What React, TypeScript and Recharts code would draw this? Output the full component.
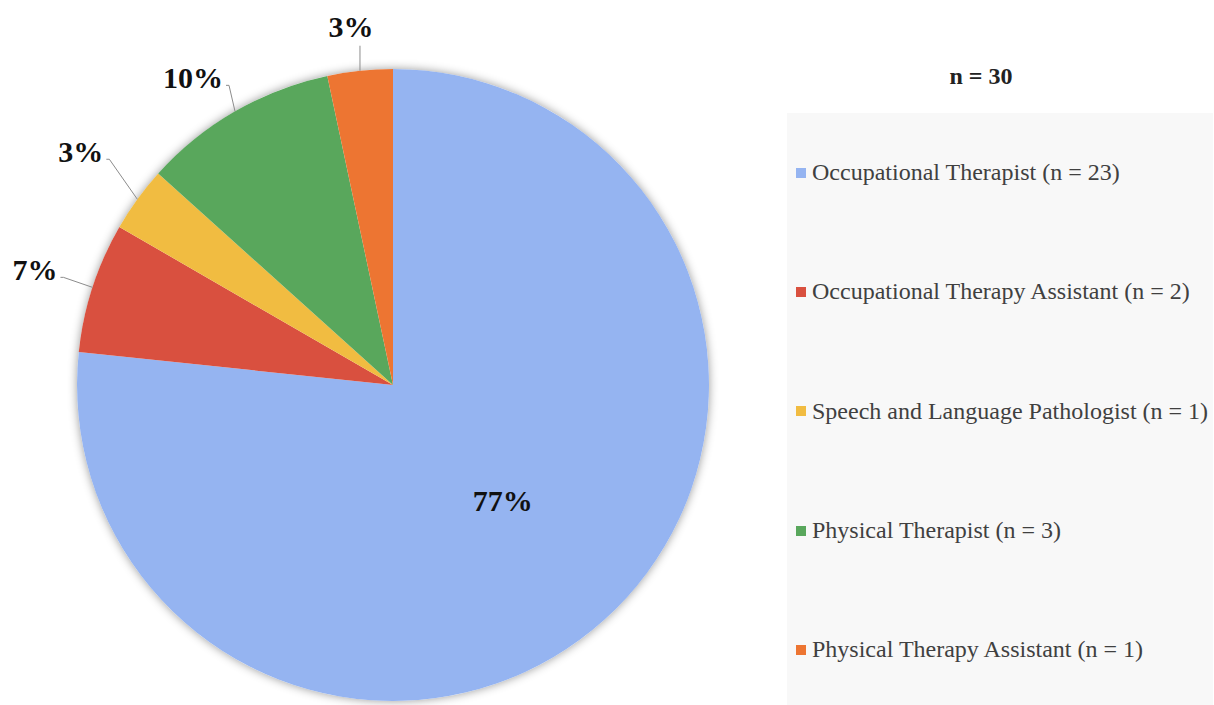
import { PieChart, Pie, Cell, Legend } from "recharts"

const roles = [
  "Occupational Therapist",
  "Occupational Therapy Assistant",
  "Speech and Language Pathologist",
  "Physical Therapist",
  "Physical Therapy Assistant",
]
const counts = [23, 2, 1, 3, 1]
const colors = ["#95b4f1", "#d9503f", "#f1bc41", "#59a75c", "#ed7532"]

const total = counts.reduce((a, b) => a + b, 0)
const data = roles.map((name, i) => ({ name, value: counts[i] }))

// leader line bend, measured from the point where the slice meets the rim
const leaderBend = [
  [0, 0],
  [-29, -10],
  [-28, -40],
  [-6, -26],
  [0, -25],
]
const RAD = Math.PI / 180
const serif = "'Liberation Serif', 'Times New Roman', serif"

function renderLabel(props: any) {
  const { cx, cy, midAngle, outerRadius, percent, index } = props
  const text = `${Math.round(percent * 100)}%`
  const cos = Math.cos(-midAngle * RAD)
  const sin = Math.sin(-midAngle * RAD)
  if (index === 0) {
    const r = outerRadius * 0.5
    return (
      <text x={cx + r * cos + 4} y={cy + r * sin - 2} textAnchor="middle" dominantBaseline="central"
        fontFamily={serif} fontWeight="bold" fontSize={30} fill="#111">
        {text}
      </text>
    )
  }
  const sx = cx + outerRadius * cos
  const sy = cy + outerRadius * sin
  const ex = sx + leaderBend[index][0]
  const ey = sy + leaderBend[index][1]
  if (Math.abs(cos) < 0.2) {
    return (
      <g>
        <polyline points={`${sx},${sy} ${ex},${ey}`} stroke="#8c8c8c" strokeWidth={1} fill="none" />
        <text x={ex - 9} y={ey - 9} textAnchor="middle" fontFamily={serif} fontWeight="bold" fontSize={30} fill="#111">
          {text}
        </text>
      </g>
    )
  }
  const hx = ex - 3
  return (
    <g>
      <polyline points={`${sx},${sy} ${ex},${ey} ${hx},${ey}`} stroke="#8c8c8c" strokeWidth={1} fill="none" />
      <text x={hx - 3} y={ey - 8} textAnchor="end" dominantBaseline="central"
        fontFamily={serif} fontWeight="bold" fontSize={30} fill="#111">
        {text}
      </text>
    </g>
  )
}

function renderLegend() {
  return (
    <div style={{ width: 426, fontFamily: serif }}>
      <div style={{ position: "absolute", top: -50, left: 0, width: 388, textAlign: "center", fontWeight: "bold", fontSize: 24, color: "#222" }}>
        n = {total}
      </div>
      <div style={{ background: "#f8f8f8", height: 592, paddingTop: 42, boxSizing: "border-box" }}>
        {data.map((d, i) => (
          <div key={d.name} style={{ display: "flex", alignItems: "center", height: 119.3, marginTop: i === 0 ? -42 : 0 }}>
            <span style={{ width: 10, height: 10, background: colors[i], marginLeft: 9, marginRight: 6, display: "inline-block" }} />
            <span style={{ fontSize: 24, color: "#404040", whiteSpace: "nowrap" }}>{`${d.name} (n = ${d.value})`}</span>
          </div>
        ))}
      </div>
    </div>
  )
}

export default function App() {
  return (
    <div style={{ position: "absolute", left: 0, top: 0, width: 1214, height: 705, background: "#fff" }}>
      <PieChart width={1214} height={705} margin={{ top: 0, right: 0, bottom: 0, left: 0 }}>
        <Pie
          data={[{ name: "all", value: total }]}
          dataKey="value"
          cx={393}
          cy={385}
          outerRadius={316}
          startAngle={90}
          endAngle={-270}
          stroke="none"
          fill="#fff"
          style={{ filter: "drop-shadow(0 0 5px rgba(0,0,0,0.4))" }}
          isAnimationActive={false}
          legendType="none"
        />
        <Pie
          data={data}
          dataKey="value"
          nameKey="name"
          cx={393}
          cy={385}
          outerRadius={316}
          startAngle={90}
          endAngle={-270}
          stroke="none"
          label={renderLabel}
          labelLine={false}
          isAnimationActive={false}
        >
          {data.map((d, i) => (
            <Cell key={d.name} fill={colors[i]} />
          ))}
        </Pie>
        <Legend
          content={renderLegend}
          wrapperStyle={{ left: 787, top: 113, width: 426 }}
        />
      </PieChart>
    </div>
  )
}
